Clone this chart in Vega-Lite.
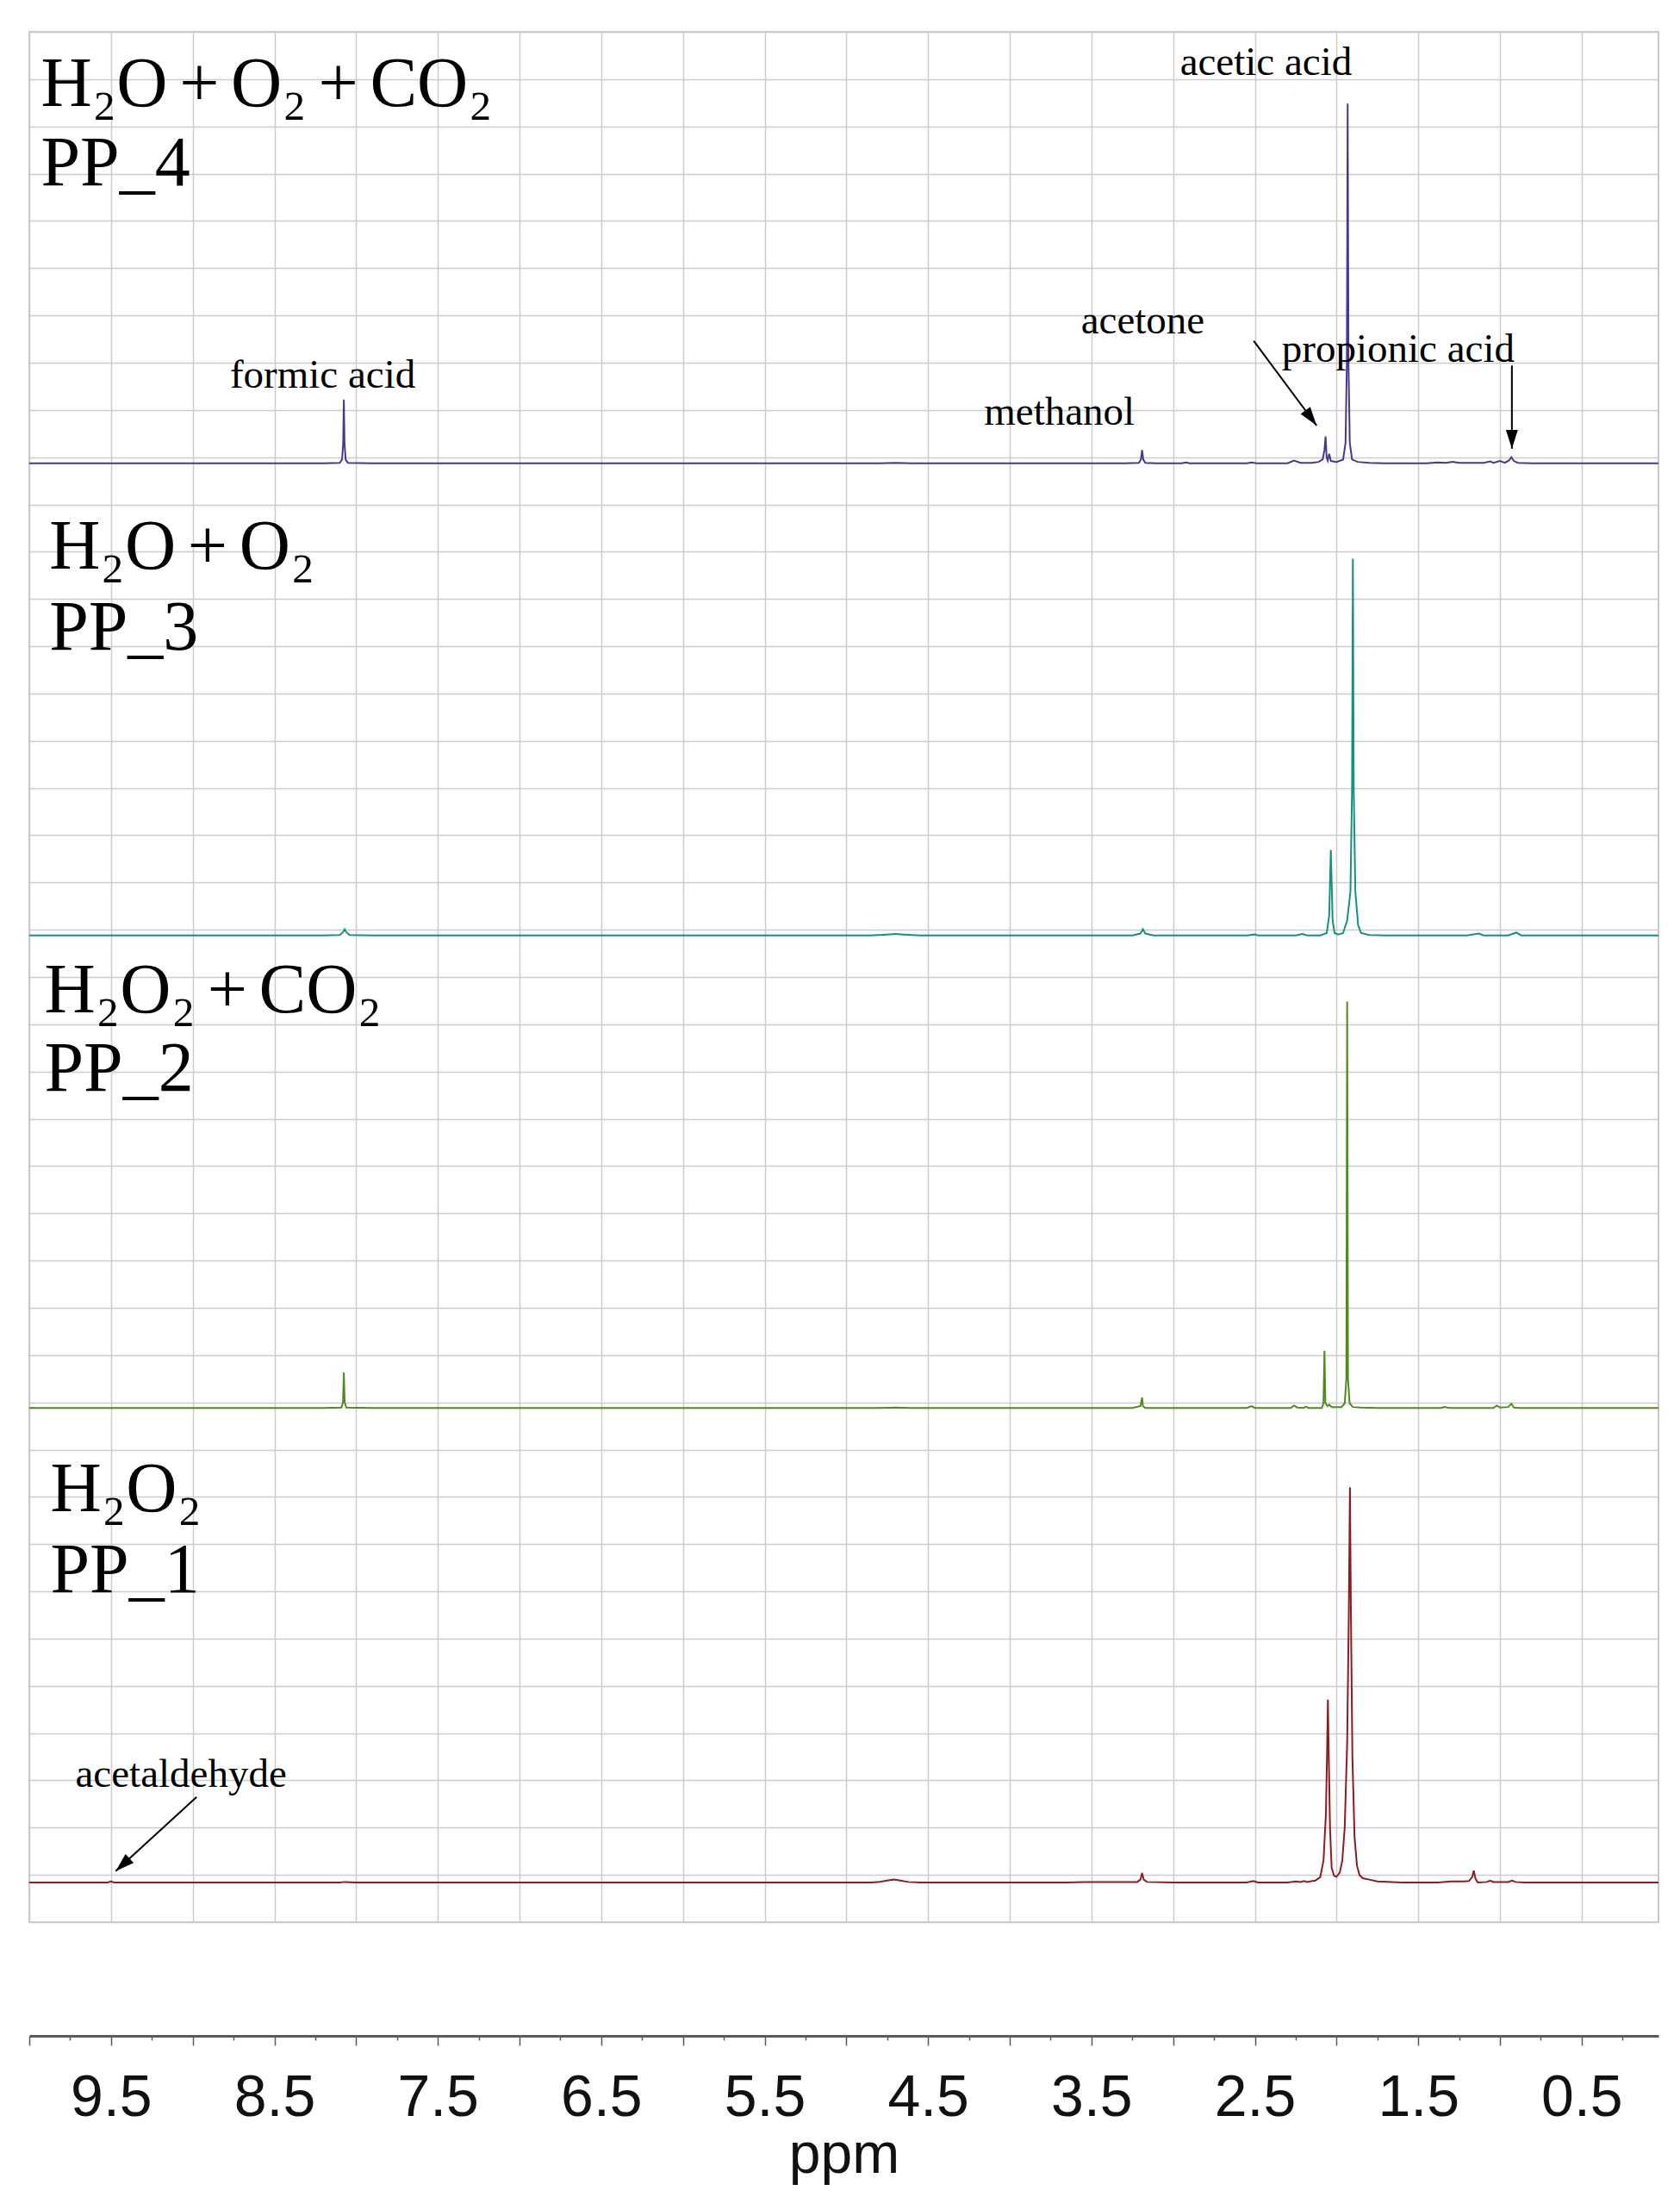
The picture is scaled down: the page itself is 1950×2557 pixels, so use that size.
{
  "$schema": "https://vega.github.io/schema/vega-lite/v6.json",
  "width": 1891,
  "height": 2194,
  "autosize": {"type": "none"},
  "padding": {"left": 34, "top": 37, "right": 25, "bottom": 326},
  "background": "white",
  "config": {
    "view": {"stroke": "#c8c8c8", "strokeWidth": 2},
    "font": "Liberation Sans"
  },
  "datasets": {
    "spectra": [
      {"sample": "PP_4", "ppm": 10.0, "signal": 30.87},
      {"sample": "PP_4", "ppm": 9.0, "signal": 30.87},
      {"sample": "PP_4", "ppm": 8.2, "signal": 30.87},
      {"sample": "PP_4", "ppm": 8.1, "signal": 30.88},
      {"sample": "PP_4", "ppm": 8.086, "signal": 30.95},
      {"sample": "PP_4", "ppm": 8.079, "signal": 31.3},
      {"sample": "PP_4", "ppm": 8.075, "signal": 32.22},
      {"sample": "PP_4", "ppm": 8.071, "signal": 31.3},
      {"sample": "PP_4", "ppm": 8.064, "signal": 30.95},
      {"sample": "PP_4", "ppm": 8.05, "signal": 30.88},
      {"sample": "PP_4", "ppm": 7.9, "signal": 30.87},
      {"sample": "PP_4", "ppm": 6.0, "signal": 30.87},
      {"sample": "PP_4", "ppm": 4.8, "signal": 30.87},
      {"sample": "PP_4", "ppm": 4.7, "signal": 30.88},
      {"sample": "PP_4", "ppm": 4.6, "signal": 30.87},
      {"sample": "PP_4", "ppm": 3.3, "signal": 30.87},
      {"sample": "PP_4", "ppm": 3.21, "signal": 30.88},
      {"sample": "PP_4", "ppm": 3.197, "signal": 30.95},
      {"sample": "PP_4", "ppm": 3.19, "signal": 31.15},
      {"sample": "PP_4", "ppm": 3.183, "signal": 30.95},
      {"sample": "PP_4", "ppm": 3.17, "signal": 30.88},
      {"sample": "PP_4", "ppm": 3.1, "signal": 30.87},
      {"sample": "PP_4", "ppm": 2.95, "signal": 30.87},
      {"sample": "PP_4", "ppm": 2.92, "signal": 30.89},
      {"sample": "PP_4", "ppm": 2.9, "signal": 30.87},
      {"sample": "PP_4", "ppm": 2.55, "signal": 30.87},
      {"sample": "PP_4", "ppm": 2.52, "signal": 30.89},
      {"sample": "PP_4", "ppm": 2.49, "signal": 30.87},
      {"sample": "PP_4", "ppm": 2.3, "signal": 30.87},
      {"sample": "PP_4", "ppm": 2.26, "signal": 30.93},
      {"sample": "PP_4", "ppm": 2.22, "signal": 30.88},
      {"sample": "PP_4", "ppm": 2.15, "signal": 30.88},
      {"sample": "PP_4", "ppm": 2.11, "signal": 30.9},
      {"sample": "PP_4", "ppm": 2.085, "signal": 30.95},
      {"sample": "PP_4", "ppm": 2.074, "signal": 31.15},
      {"sample": "PP_4", "ppm": 2.067, "signal": 31.44},
      {"sample": "PP_4", "ppm": 2.061, "signal": 31.0},
      {"sample": "PP_4", "ppm": 2.054, "signal": 30.93},
      {"sample": "PP_4", "ppm": 2.045, "signal": 31.07},
      {"sample": "PP_4", "ppm": 2.035, "signal": 30.92},
      {"sample": "PP_4", "ppm": 2.0, "signal": 30.9},
      {"sample": "PP_4", "ppm": 1.96, "signal": 30.95},
      {"sample": "PP_4", "ppm": 1.945, "signal": 31.3},
      {"sample": "PP_4", "ppm": 1.937, "signal": 33.0},
      {"sample": "PP_4", "ppm": 1.932, "signal": 38.48},
      {"sample": "PP_4", "ppm": 1.927, "signal": 33.0},
      {"sample": "PP_4", "ppm": 1.919, "signal": 31.3},
      {"sample": "PP_4", "ppm": 1.905, "signal": 30.95},
      {"sample": "PP_4", "ppm": 1.87, "signal": 30.9},
      {"sample": "PP_4", "ppm": 1.8, "signal": 30.88},
      {"sample": "PP_4", "ppm": 1.7, "signal": 30.87},
      {"sample": "PP_4", "ppm": 1.45, "signal": 30.87},
      {"sample": "PP_4", "ppm": 1.38, "signal": 30.89},
      {"sample": "PP_4", "ppm": 1.33, "signal": 30.88},
      {"sample": "PP_4", "ppm": 1.29, "signal": 30.9},
      {"sample": "PP_4", "ppm": 1.25, "signal": 30.88},
      {"sample": "PP_4", "ppm": 1.1, "signal": 30.88},
      {"sample": "PP_4", "ppm": 1.06, "signal": 30.91},
      {"sample": "PP_4", "ppm": 1.04, "signal": 30.88},
      {"sample": "PP_4", "ppm": 1.0, "signal": 30.92},
      {"sample": "PP_4", "ppm": 0.97, "signal": 30.88},
      {"sample": "PP_4", "ppm": 0.945, "signal": 30.93},
      {"sample": "PP_4", "ppm": 0.93, "signal": 31.0},
      {"sample": "PP_4", "ppm": 0.915, "signal": 30.92},
      {"sample": "PP_4", "ppm": 0.89, "signal": 30.88},
      {"sample": "PP_4", "ppm": 0.8, "signal": 30.87},
      {"sample": "PP_4", "ppm": 0.5, "signal": 30.87},
      {"sample": "PP_4", "ppm": 0.03, "signal": 30.87},

      {"sample": "PP_3", "ppm": 10.0, "signal": 20.88},
      {"sample": "PP_3", "ppm": 8.2, "signal": 20.88},
      {"sample": "PP_3", "ppm": 8.1, "signal": 20.89},
      {"sample": "PP_3", "ppm": 8.08, "signal": 20.95},
      {"sample": "PP_3", "ppm": 8.07, "signal": 21.01},
      {"sample": "PP_3", "ppm": 8.06, "signal": 20.95},
      {"sample": "PP_3", "ppm": 8.04, "signal": 20.89},
      {"sample": "PP_3", "ppm": 7.9, "signal": 20.88},
      {"sample": "PP_3", "ppm": 4.85, "signal": 20.88},
      {"sample": "PP_3", "ppm": 4.75, "signal": 20.9},
      {"sample": "PP_3", "ppm": 4.7, "signal": 20.91},
      {"sample": "PP_3", "ppm": 4.65, "signal": 20.9},
      {"sample": "PP_3", "ppm": 4.55, "signal": 20.88},
      {"sample": "PP_3", "ppm": 3.25, "signal": 20.88},
      {"sample": "PP_3", "ppm": 3.2, "signal": 20.92},
      {"sample": "PP_3", "ppm": 3.185, "signal": 21.01},
      {"sample": "PP_3", "ppm": 3.17, "signal": 20.92},
      {"sample": "PP_3", "ppm": 3.12, "signal": 20.88},
      {"sample": "PP_3", "ppm": 2.55, "signal": 20.88},
      {"sample": "PP_3", "ppm": 2.5, "signal": 20.9},
      {"sample": "PP_3", "ppm": 2.48, "signal": 20.88},
      {"sample": "PP_3", "ppm": 2.25, "signal": 20.88},
      {"sample": "PP_3", "ppm": 2.21, "signal": 20.91},
      {"sample": "PP_3", "ppm": 2.18, "signal": 20.88},
      {"sample": "PP_3", "ppm": 2.1, "signal": 20.88},
      {"sample": "PP_3", "ppm": 2.06, "signal": 20.93},
      {"sample": "PP_3", "ppm": 2.045, "signal": 21.3},
      {"sample": "PP_3", "ppm": 2.04, "signal": 22.0},
      {"sample": "PP_3", "ppm": 2.035, "signal": 22.69},
      {"sample": "PP_3", "ppm": 2.03, "signal": 22.0},
      {"sample": "PP_3", "ppm": 2.024, "signal": 21.2},
      {"sample": "PP_3", "ppm": 2.012, "signal": 20.93},
      {"sample": "PP_3", "ppm": 1.99, "signal": 20.9},
      {"sample": "PP_3", "ppm": 1.96, "signal": 20.93},
      {"sample": "PP_3", "ppm": 1.935, "signal": 21.2},
      {"sample": "PP_3", "ppm": 1.915, "signal": 21.8},
      {"sample": "PP_3", "ppm": 1.905, "signal": 24.0},
      {"sample": "PP_3", "ppm": 1.9, "signal": 28.85},
      {"sample": "PP_3", "ppm": 1.895, "signal": 24.0},
      {"sample": "PP_3", "ppm": 1.885, "signal": 21.8},
      {"sample": "PP_3", "ppm": 1.868, "signal": 21.1},
      {"sample": "PP_3", "ppm": 1.85, "signal": 20.93},
      {"sample": "PP_3", "ppm": 1.8, "signal": 20.89},
      {"sample": "PP_3", "ppm": 1.7, "signal": 20.88},
      {"sample": "PP_3", "ppm": 1.2, "signal": 20.88},
      {"sample": "PP_3", "ppm": 1.13, "signal": 20.92},
      {"sample": "PP_3", "ppm": 1.1, "signal": 20.88},
      {"sample": "PP_3", "ppm": 0.95, "signal": 20.88},
      {"sample": "PP_3", "ppm": 0.9, "signal": 20.94},
      {"sample": "PP_3", "ppm": 0.87, "signal": 20.88},
      {"sample": "PP_3", "ppm": 0.03, "signal": 20.88},

      {"sample": "PP_2", "ppm": 10.0, "signal": 10.88},
      {"sample": "PP_2", "ppm": 8.2, "signal": 10.88},
      {"sample": "PP_2", "ppm": 8.09, "signal": 10.89},
      {"sample": "PP_2", "ppm": 8.08, "signal": 11.0},
      {"sample": "PP_2", "ppm": 8.075, "signal": 11.63},
      {"sample": "PP_2", "ppm": 8.07, "signal": 11.0},
      {"sample": "PP_2", "ppm": 8.06, "signal": 10.89},
      {"sample": "PP_2", "ppm": 7.9, "signal": 10.88},
      {"sample": "PP_2", "ppm": 4.8, "signal": 10.88},
      {"sample": "PP_2", "ppm": 4.7, "signal": 10.89},
      {"sample": "PP_2", "ppm": 4.6, "signal": 10.88},
      {"sample": "PP_2", "ppm": 3.25, "signal": 10.88},
      {"sample": "PP_2", "ppm": 3.2, "signal": 10.92},
      {"sample": "PP_2", "ppm": 3.19, "signal": 11.1},
      {"sample": "PP_2", "ppm": 3.185, "signal": 10.92},
      {"sample": "PP_2", "ppm": 3.17, "signal": 10.88},
      {"sample": "PP_2", "ppm": 2.55, "signal": 10.88},
      {"sample": "PP_2", "ppm": 2.52, "signal": 10.92},
      {"sample": "PP_2", "ppm": 2.5, "signal": 10.88},
      {"sample": "PP_2", "ppm": 2.28, "signal": 10.88},
      {"sample": "PP_2", "ppm": 2.26, "signal": 10.93},
      {"sample": "PP_2", "ppm": 2.24, "signal": 10.89},
      {"sample": "PP_2", "ppm": 2.2, "signal": 10.88},
      {"sample": "PP_2", "ppm": 2.19, "signal": 10.91},
      {"sample": "PP_2", "ppm": 2.17, "signal": 10.88},
      {"sample": "PP_2", "ppm": 2.09, "signal": 10.88},
      {"sample": "PP_2", "ppm": 2.08, "signal": 10.98},
      {"sample": "PP_2", "ppm": 2.074, "signal": 12.09},
      {"sample": "PP_2", "ppm": 2.068, "signal": 10.98},
      {"sample": "PP_2", "ppm": 2.055, "signal": 10.92},
      {"sample": "PP_2", "ppm": 2.045, "signal": 10.95},
      {"sample": "PP_2", "ppm": 2.03, "signal": 10.9},
      {"sample": "PP_2", "ppm": 1.97, "signal": 10.9},
      {"sample": "PP_2", "ppm": 1.95, "signal": 10.98},
      {"sample": "PP_2", "ppm": 1.94, "signal": 11.5},
      {"sample": "PP_2", "ppm": 1.935, "signal": 19.48},
      {"sample": "PP_2", "ppm": 1.93, "signal": 11.5},
      {"sample": "PP_2", "ppm": 1.92, "signal": 10.98},
      {"sample": "PP_2", "ppm": 1.9, "signal": 10.9},
      {"sample": "PP_2", "ppm": 1.85, "signal": 10.89},
      {"sample": "PP_2", "ppm": 1.75, "signal": 10.88},
      {"sample": "PP_2", "ppm": 1.36, "signal": 10.88},
      {"sample": "PP_2", "ppm": 1.34, "signal": 10.9},
      {"sample": "PP_2", "ppm": 1.31, "signal": 10.88},
      {"sample": "PP_2", "ppm": 1.04, "signal": 10.88},
      {"sample": "PP_2", "ppm": 1.02, "signal": 10.93},
      {"sample": "PP_2", "ppm": 1.0, "signal": 10.89},
      {"sample": "PP_2", "ppm": 0.95, "signal": 10.9},
      {"sample": "PP_2", "ppm": 0.93, "signal": 10.97},
      {"sample": "PP_2", "ppm": 0.915, "signal": 10.89},
      {"sample": "PP_2", "ppm": 0.88, "signal": 10.88},
      {"sample": "PP_2", "ppm": 0.03, "signal": 10.88},

      {"sample": "PP_1", "ppm": 10.0, "signal": 0.84},
      {"sample": "PP_1", "ppm": 9.52, "signal": 0.84},
      {"sample": "PP_1", "ppm": 9.5, "signal": 0.86},
      {"sample": "PP_1", "ppm": 9.48, "signal": 0.84},
      {"sample": "PP_1", "ppm": 8.1, "signal": 0.84},
      {"sample": "PP_1", "ppm": 8.07, "signal": 0.85},
      {"sample": "PP_1", "ppm": 8.0, "signal": 0.84},
      {"sample": "PP_1", "ppm": 4.85, "signal": 0.84},
      {"sample": "PP_1", "ppm": 4.8, "signal": 0.85},
      {"sample": "PP_1", "ppm": 4.75, "signal": 0.88},
      {"sample": "PP_1", "ppm": 4.71, "signal": 0.9},
      {"sample": "PP_1", "ppm": 4.67, "signal": 0.88},
      {"sample": "PP_1", "ppm": 4.62, "signal": 0.85},
      {"sample": "PP_1", "ppm": 4.55, "signal": 0.84},
      {"sample": "PP_1", "ppm": 3.65, "signal": 0.84},
      {"sample": "PP_1", "ppm": 3.55, "signal": 0.85},
      {"sample": "PP_1", "ppm": 3.45, "signal": 0.85},
      {"sample": "PP_1", "ppm": 3.22, "signal": 0.85},
      {"sample": "PP_1", "ppm": 3.2, "signal": 0.9},
      {"sample": "PP_1", "ppm": 3.19, "signal": 1.04},
      {"sample": "PP_1", "ppm": 3.18, "signal": 0.9},
      {"sample": "PP_1", "ppm": 3.16, "signal": 0.85},
      {"sample": "PP_1", "ppm": 3.0, "signal": 0.84},
      {"sample": "PP_1", "ppm": 2.55, "signal": 0.84},
      {"sample": "PP_1", "ppm": 2.51, "signal": 0.87},
      {"sample": "PP_1", "ppm": 2.48, "signal": 0.84},
      {"sample": "PP_1", "ppm": 2.3, "signal": 0.84},
      {"sample": "PP_1", "ppm": 2.25, "signal": 0.86},
      {"sample": "PP_1", "ppm": 2.22, "signal": 0.85},
      {"sample": "PP_1", "ppm": 2.2, "signal": 0.87},
      {"sample": "PP_1", "ppm": 2.18, "signal": 0.85},
      {"sample": "PP_1", "ppm": 2.13, "signal": 0.88},
      {"sample": "PP_1", "ppm": 2.1, "signal": 0.95},
      {"sample": "PP_1", "ppm": 2.08, "signal": 1.3},
      {"sample": "PP_1", "ppm": 2.065, "signal": 2.3},
      {"sample": "PP_1", "ppm": 2.058, "signal": 3.6},
      {"sample": "PP_1", "ppm": 2.053, "signal": 4.71},
      {"sample": "PP_1", "ppm": 2.048, "signal": 3.6},
      {"sample": "PP_1", "ppm": 2.04, "signal": 2.0},
      {"sample": "PP_1", "ppm": 2.03, "signal": 1.15},
      {"sample": "PP_1", "ppm": 2.015, "signal": 0.98},
      {"sample": "PP_1", "ppm": 2.0, "signal": 0.96},
      {"sample": "PP_1", "ppm": 1.98, "signal": 1.05},
      {"sample": "PP_1", "ppm": 1.965, "signal": 1.3},
      {"sample": "PP_1", "ppm": 1.95, "signal": 2.0},
      {"sample": "PP_1", "ppm": 1.935, "signal": 3.8},
      {"sample": "PP_1", "ppm": 1.925, "signal": 6.5},
      {"sample": "PP_1", "ppm": 1.918, "signal": 9.2},
      {"sample": "PP_1", "ppm": 1.912, "signal": 6.5},
      {"sample": "PP_1", "ppm": 1.903, "signal": 3.5},
      {"sample": "PP_1", "ppm": 1.89, "signal": 1.8},
      {"sample": "PP_1", "ppm": 1.875, "signal": 1.2},
      {"sample": "PP_1", "ppm": 1.86, "signal": 1.0},
      {"sample": "PP_1", "ppm": 1.84, "signal": 0.93},
      {"sample": "PP_1", "ppm": 1.8, "signal": 0.9},
      {"sample": "PP_1", "ppm": 1.75, "signal": 0.86},
      {"sample": "PP_1", "ppm": 1.6, "signal": 0.84},
      {"sample": "PP_1", "ppm": 1.38, "signal": 0.84},
      {"sample": "PP_1", "ppm": 1.3, "signal": 0.86},
      {"sample": "PP_1", "ppm": 1.22, "signal": 0.86},
      {"sample": "PP_1", "ppm": 1.19, "signal": 0.87},
      {"sample": "PP_1", "ppm": 1.17, "signal": 0.95},
      {"sample": "PP_1", "ppm": 1.16, "signal": 1.09},
      {"sample": "PP_1", "ppm": 1.15, "signal": 0.92},
      {"sample": "PP_1", "ppm": 1.135, "signal": 0.84},
      {"sample": "PP_1", "ppm": 1.08, "signal": 0.85},
      {"sample": "PP_1", "ppm": 1.06, "signal": 0.88},
      {"sample": "PP_1", "ppm": 1.04, "signal": 0.85},
      {"sample": "PP_1", "ppm": 0.95, "signal": 0.85},
      {"sample": "PP_1", "ppm": 0.925, "signal": 0.88},
      {"sample": "PP_1", "ppm": 0.905, "signal": 0.85},
      {"sample": "PP_1", "ppm": 0.85, "signal": 0.84},
      {"sample": "PP_1", "ppm": 0.03, "signal": 0.84}
    ],
    "titles": [
      {"text": "H₂O\u2006+\u2006O₂\u2006+\u2006CO₂", "ppm": 9.929, "signal": 38.44},
      {"text": "PP_4", "ppm": 9.929, "signal": 36.75},
      {"text": "H₂O\u2006+\u2006O₂", "ppm": 9.878, "signal": 28.65},
      {"text": "PP_3", "ppm": 9.878, "signal": 26.93},
      {"text": "H₂O₂\u2006+\u2006CO₂", "ppm": 9.908, "signal": 19.26},
      {"text": "PP_2", "ppm": 9.908, "signal": 17.6},
      {"text": "H₂O₂", "ppm": 9.871, "signal": 8.69},
      {"text": "PP_1", "ppm": 9.871, "signal": 6.98}
    ],
    "notes": [
      {"text": "acetic acid", "ppm": 2.958, "signal": 39.09},
      {"text": "acetone", "ppm": 3.564, "signal": 33.62},
      {"text": "propionic acid", "ppm": 2.335, "signal": 33.01},
      {"text": "methanol", "ppm": 4.157, "signal": 31.69},
      {"text": "formic acid", "ppm": 8.772, "signal": 32.47},
      {"text": "acetaldehyde", "ppm": 9.718, "signal": 2.86}
    ],
    "arrows": [
      {"target": "acetone", "ppm": 2.507, "signal": 33.46, "ppm2": 2.122, "signal2": 31.67},
      {"target": "propionic acid", "ppm": 0.927, "signal": 32.94, "ppm2": 0.927, "signal2": 31.18},
      {"target": "acetaldehyde", "ppm": 8.976, "signal": 2.65, "ppm2": 9.471, "signal2": 1.08}
    ]
  },
  "layer": [
    {
      "data": {"name": "spectra"},
      "mark": {"type": "line", "strokeWidth": 2, "clip": true},
      "encoding": {
        "x": {
          "field": "ppm",
          "type": "quantitative",
          "scale": {"domain": [0.03, 10], "reverse": true, "nice": false, "zero": false},
          "axis": {
            "values": [10, 9.75, 9.5, 9.25, 9, 8.75, 8.5, 8.25, 8, 7.75, 7.5, 7.25, 7, 6.75, 6.5, 6.25, 6, 5.75, 5.5, 5.25, 5, 4.75, 4.5, 4.25, 4, 3.75, 3.5, 3.25, 3, 2.75, 2.5, 2.25, 2, 1.75, 1.5, 1.25, 1, 0.75, 0.5, 0.25],
            "offset": 132,
            "grid": true,
            "gridColor": "#cccccc",
            "gridWidth": 1.5,
            "gridOpacity": {"condition": {"test": "abs(datum.value * 2 - round(datum.value * 2)) < 0.001", "value": 1}, "value": 0},
            "domain": true,
            "domainColor": "#5a5a5a",
            "domainWidth": 3,
            "ticks": true,
            "tickColor": "#5a5a5a",
            "tickWidth": 1.5,
            "tickSize": {"condition": {"test": "abs(datum.value * 2 - round(datum.value * 2)) < 0.001", "value": 11}, "value": 5},
            "labelExpr": "abs((datum.value % 1) - 0.5) < 0.001 ? format(datum.value, '.1f') : ''",
            "labelFont": "Liberation Sans",
            "labelFontSize": 68,
            "labelColor": "#111111",
            "labelPadding": 27,
            "labelOverlap": false,
            "labelFlush": false,
            "title": "ppm",
            "titleFont": "Liberation Sans",
            "titleFontSize": 66,
            "titleFontWeight": "normal",
            "titleColor": "#111111",
            "titlePadding": 0
          }
        },
        "y": {
          "field": "signal",
          "type": "quantitative",
          "scale": {"domain": [0, 40], "nice": false, "zero": false},
          "axis": {
            "values": [0, 1, 2, 3, 4, 5, 6, 7, 8, 9, 10, 11, 12, 13, 14, 15, 16, 17, 18, 19, 20, 21, 22, 23, 24, 25, 26, 27, 28, 29, 30, 31, 32, 33, 34, 35, 36, 37, 38, 39, 40],
            "grid": true,
            "gridColor": "#cccccc",
            "gridWidth": 1.5,
            "labels": false,
            "ticks": false,
            "domain": false,
            "title": null
          }
        },
        "color": {
          "field": "sample",
          "type": "nominal",
          "scale": {"domain": ["PP_4", "PP_3", "PP_2", "PP_1"], "range": ["#463a8c", "#16917e", "#4f8b1f", "#8e1b22"]},
          "legend": null
        }
      }
    },
    {
      "data": {"name": "titles"},
      "mark": {"type": "text", "font": "Liberation Serif", "fontSize": 82, "align": "left", "baseline": "alphabetic", "color": "black"},
      "encoding": {
        "x": {"field": "ppm", "type": "quantitative"},
        "y": {"field": "signal", "type": "quantitative"},
        "text": {"field": "text"}
      }
    },
    {
      "data": {"name": "notes"},
      "mark": {"type": "text", "font": "Liberation Serif", "fontSize": 47, "align": "left", "baseline": "alphabetic", "color": "black"},
      "encoding": {
        "x": {"field": "ppm", "type": "quantitative"},
        "y": {"field": "signal", "type": "quantitative"},
        "text": {"field": "text"}
      }
    },
    {
      "data": {"name": "arrows"},
      "mark": {"type": "rule", "color": "black", "strokeWidth": 2},
      "encoding": {
        "x": {"field": "ppm", "type": "quantitative"},
        "y": {"field": "signal", "type": "quantitative"},
        "x2": {"field": "ppm2"},
        "y2": {"field": "signal2"}
      }
    },
    {
      "data": {"name": "arrows"},
      "transform": [{"filter": "datum.target === 'acetone'"}],
      "mark": {"type": "point", "shape": "M0,0L-0.32,-1L0.32,-1Z", "filled": true, "color": "black", "opacity": 1, "size": 1900, "angle": 323.4},
      "encoding": {
        "x": {"field": "ppm2", "type": "quantitative"},
        "y": {"field": "signal2", "type": "quantitative"}
      }
    },
    {
      "data": {"name": "arrows"},
      "transform": [{"filter": "datum.target === 'propionic acid'"}],
      "mark": {"type": "point", "shape": "M0,0L-0.32,-1L0.32,-1Z", "filled": true, "color": "black", "opacity": 1, "size": 1900, "angle": 0},
      "encoding": {
        "x": {"field": "ppm2", "type": "quantitative"},
        "y": {"field": "signal2", "type": "quantitative"}
      }
    },
    {
      "data": {"name": "arrows"},
      "transform": [{"filter": "datum.target === 'acetaldehyde'"}],
      "mark": {"type": "point", "shape": "M0,0L-0.32,-1L0.32,-1Z", "filled": true, "color": "black", "opacity": 1, "size": 1900, "angle": 47.4},
      "encoding": {
        "x": {"field": "ppm2", "type": "quantitative"},
        "y": {"field": "signal2", "type": "quantitative"}
      }
    }
  ]
}
